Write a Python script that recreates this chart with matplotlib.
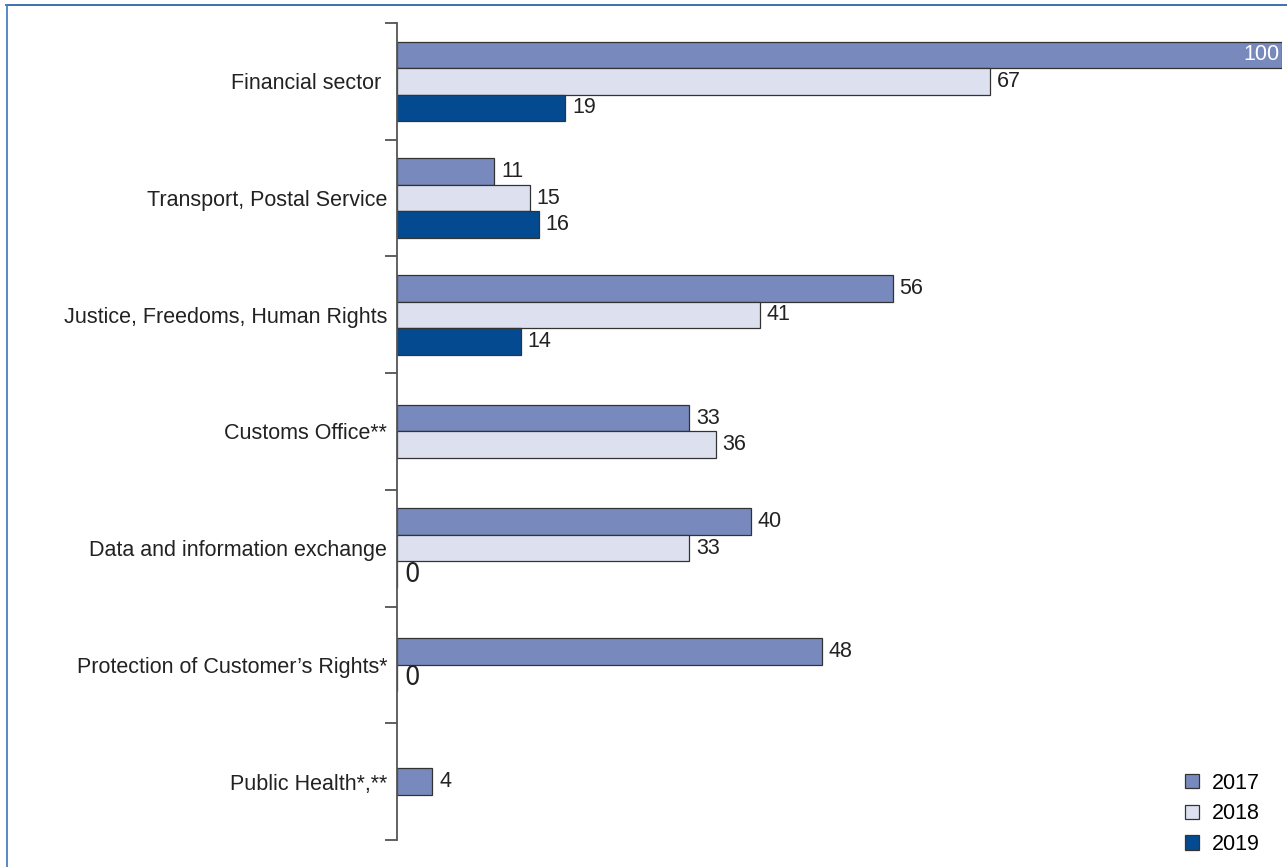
import numpy as np
import matplotlib
matplotlib.use('Agg')
import matplotlib.pyplot as plt
from matplotlib.lines import Line2D

plt.rcParams['font.family'] = ['Liberation Sans', 'DejaVu Sans']

# categories, top to bottom
categories = ['Financial sector ', 'Transport, Postal Service',
              'Justice, Freedoms, Human Rights', 'Customs Office**',
              'Data and information exchange', "Protection of Customer\u2019s Rights*",
              'Public Health*,**']
years = ['2017', '2018', '2019']
# None = no bar in this group
v2017 = [100, 11, 56, 33, 40, 48, 4]
v2018 = [67, 15, 41, 36, 33, 0, None]
v2019 = [19, 16, 14, None, 0, None, None]
colors = ['#7889bd', '#dde1ef', '#044a91']

series = [v2017, v2018, v2019]
fs = 15.5
h = 0.227  # bar height

fig = plt.figure(figsize=(12.87, 8.67), dpi=100)
ax = fig.add_axes([397 / 1287, 1 - 840 / 867, 1 - 397 / 1287 - 5 / 1287, (840 - 23) / 867])

for i, cat in enumerate(categories):
    present = [k for k in range(3) if series[k][i] is not None]
    n = len(present)
    for j, k in enumerate(present):
        val = series[k][i]
        y = i + (j - (n - 1) / 2) * h
        ax.barh(y, val, height=h, color=colors[k], edgecolor='#333333', linewidth=0.9)
        if val >= 95:
            ax.annotate(str(val), (val, y), xytext=(-2, 0), textcoords='offset points',
                        ha='right', va='center', color='white', fontsize=fs)
        elif val == 0:
            ax.annotate('0', (val, y), xytext=(5, 0), textcoords='offset points',
                        ha='left', va='center', color='#222222', fontsize=fs + 4,
                        family='DejaVu Sans', fontstretch='condensed')
        else:
            ax.annotate(str(val), (val, y), xytext=(5, 0), textcoords='offset points',
                        ha='left', va='center', color='#222222', fontsize=fs)

ax.set_xlim(0, 100)
ax.set_ylim(len(categories) - 0.5, -0.5)

for s in ['top', 'right', 'bottom']:
    ax.spines[s].set_visible(False)
ax.spines['left'].set_color('#555555')
ax.spines['left'].set_linewidth(1.3)
ax.set_xticks([])

ax.set_yticks(np.arange(len(categories) + 1) - 0.5)
ax.set_yticklabels([])
ax.tick_params(axis='y', which='major', length=9, width=1.2, color='#444444', direction='out')
ax.set_yticks(np.arange(len(categories)), minor=True)
ax.set_yticklabels(categories, minor=True, fontsize=fs, color='#222222')
ax.tick_params(axis='y', which='minor', length=0, pad=7)

handles = [plt.Rectangle((0, 0), 1, 1, facecolor=c, edgecolor='#333333', linewidth=0.9)
           for c in colors]
fig.legend(handles, years, loc='lower left', bbox_to_anchor=(1185 / 1287, 12 / 867),
           frameon=False, fontsize=fs, handlelength=0.65, handleheight=0.65,
           handletextpad=0.6, labelspacing=0.45, borderpad=0, borderaxespad=0)

# thin blue frame around the figure (top and left visible)
fig.add_artist(Line2D([6 / 1287, 1], [1 - 4.5 / 867, 1 - 4.5 / 867], transform=fig.transFigure,
                      color='#2f66a6', linewidth=1.3))
fig.add_artist(Line2D([6.5 / 1287, 6.5 / 1287], [0, 1 - 4.5 / 867], transform=fig.transFigure,
                      color='#4a80c0', linewidth=1.3))

fig.savefig('out.png', dpi=100)
